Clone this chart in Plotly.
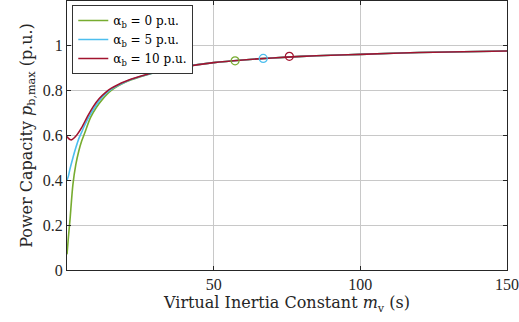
import plotly.graph_objects as go

# Data
x_green = [0, 0.5, 1, 2, 3, 4, 5, 6, 8, 10, 12, 15, 20, 25, 30, 40, 50, 60, 70, 80, 90, 100, 120, 150]
y_green = [0.07, 0.15, 0.22, 0.38, 0.47, 0.53, 0.575, 0.61, 0.68, 0.725, 0.76, 0.80, 0.838, 0.862, 0.881, 0.907, 0.925, 0.937, 0.946, 0.953, 0.958, 0.962, 0.970, 0.977]

x_blue = [0, 0.5, 1, 2, 3, 4, 5, 6, 8, 10, 12, 15, 20, 25, 30, 40, 50, 60, 70, 80, 90, 100, 120, 150]
y_blue = [0.40, 0.42, 0.45, 0.50, 0.545, 0.585, 0.615, 0.645, 0.695, 0.737, 0.772, 0.806, 0.840, 0.863, 0.881, 0.907, 0.925, 0.937, 0.946, 0.953, 0.958, 0.962, 0.970, 0.977]

x_red = [0, 0.5, 1, 1.6, 2.5, 3.5, 5, 7, 9, 11, 13, 15, 20, 25, 30, 40, 50, 60, 70, 80, 90, 100, 120, 150]
y_red = [0.596, 0.587, 0.582, 0.581, 0.59, 0.605, 0.635, 0.685, 0.73, 0.765, 0.79, 0.81, 0.842, 0.864, 0.882, 0.907, 0.925, 0.937, 0.946, 0.953, 0.958, 0.962, 0.970, 0.977]

marker_x = [57.3, 66.9, 75.8]
marker_y = [0.933, 0.944, 0.953]

names = ["α<sub>b</sub> = 0 p.u.", "α<sub>b</sub> = 5 p.u.", "α<sub>b</sub> = 10 p.u."]
colors = ["#77AC30", "#4DBEEE", "#A2142F"]

fig = go.Figure()
for xs, ys, nm, c in zip([x_green, x_blue, x_red], [y_green, y_blue, y_red], names, colors):
    fig.add_trace(go.Scatter(x=xs, y=ys, mode="lines", name=nm,
                             line=dict(color=c, width=1.6, shape="spline", smoothing=0.8)))
for mx, my, c in zip(marker_x, marker_y, colors):
    fig.add_trace(go.Scatter(x=[mx], y=[my], mode="markers", showlegend=False,
                             marker=dict(symbol="circle-open", size=8, color=c, line=dict(width=1.2, color=c))))

tick_font = "Liberation Serif"
title_font = "DejaVu Serif"
axis_color = "#262626"
grid_color = "#c8c8c8"
fig.update_layout(
    width=519, height=322,
    margin=dict(l=67, r=12, t=1, b=52),
    paper_bgcolor="white", plot_bgcolor="white",
    font=dict(family=tick_font, size=16, color=axis_color),
    showlegend=True,
    legend=dict(x=0.012, y=0.985, xanchor="left", yanchor="top",
                bgcolor="white", bordercolor="#333333", borderwidth=1,
                font=dict(family=title_font, size=12, color="#000000"),
                tracegroupgap=0, itemwidth=30),
    xaxis=dict(range=[0, 150], tickvals=[50, 100, 150], ticks="inside", ticklen=4,
               tickcolor=axis_color,
               showline=True, linecolor=axis_color, linewidth=1, mirror="ticks",
               showgrid=True, gridcolor=grid_color, gridwidth=1, zeroline=False,
               title=dict(text="Virtual Inertia Constant <i>m</i><sub>v</sub> (s)",
                          font=dict(size=16, family=title_font, color=axis_color), standoff=3),
               tickfont=dict(size=16)),
    yaxis=dict(range=[0, 1.2], tickvals=[0, 0.2, 0.4, 0.6, 0.8, 1],
               ticktext=["0", "0.2", "0.4", "0.6", "0.8", "1"], ticks="inside", ticklen=4,
               tickcolor=axis_color,
               showline=True, linecolor=axis_color, linewidth=1, mirror="ticks",
               showgrid=True, gridcolor=grid_color, gridwidth=1, zeroline=False,
               title=dict(text="Power Capacity <i>p</i><sub>b,max</sub> (p.u.)",
                          font=dict(size=16, family=title_font, color=axis_color), standoff=6),
               tickfont=dict(size=16)),
)
fig.write_html("out.html")
